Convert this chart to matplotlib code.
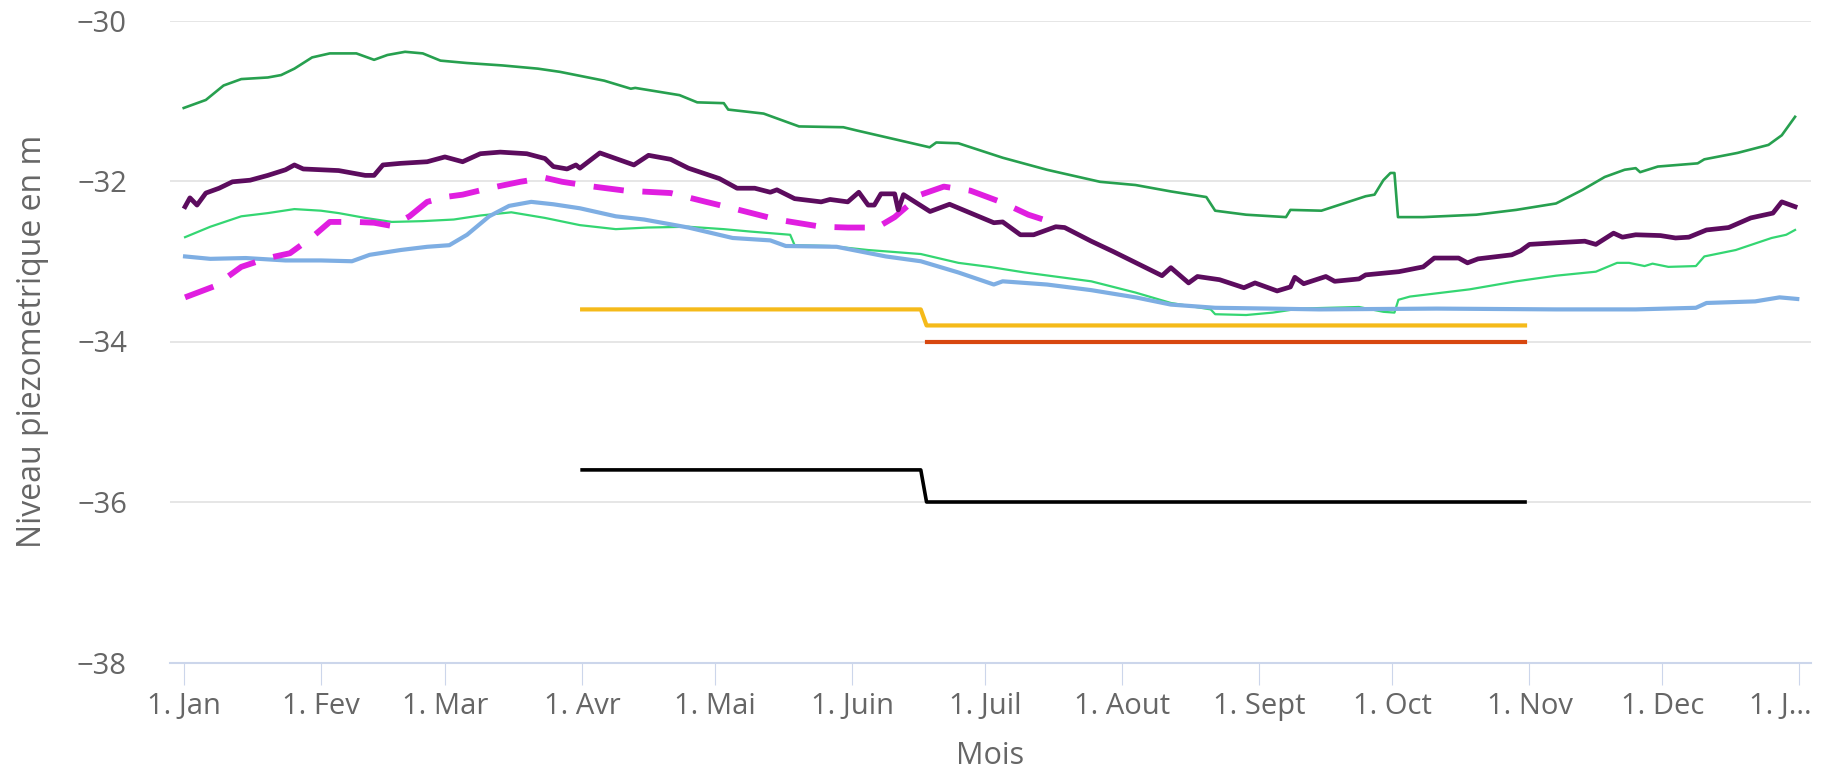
import matplotlib
matplotlib.use("Agg")
import matplotlib.pyplot as plt
from matplotlib.transforms import ScaledTranslation

plt.rcParams['font.family'] = ['Open Sans', 'DejaVu Sans']

# ---- x axis (day of year) ----
month_ticks = [0, 31, 59, 90, 120, 151, 181, 212, 243, 273, 304, 334, 365]
month_labels = ["1. Jan", "1. Fev", "1. Mar", "1. Avr", "1. Mai", "1. Juin", "1. Juil",
                "1. Aout", "1. Sept", "1. Oct", "1. Nov", "1. Dec", "1. J..."]
y_ticks = [-38, -36, -34, -32, -30]

# ---- series: dark green (top) ----
dg_days = [0, 5, 9, 13, 19, 22, 25, 29, 33, 39, 43, 46, 50, 54, 58, 64, 72, 80, 85, 95,
           101, 102, 112, 116, 122, 123, 131, 139, 149, 152, 168.5, 170, 175, 185, 195,
           207, 215, 223, 231, 233, 240, 249, 250, 257, 262, 267, 269, 271, 272.6, 273.5,
           274.3, 280, 292, 301, 310, 316, 321, 325.5, 328, 329, 333, 342, 343.5, 351, 358,
           361, 364]
dg_vals = [-31.09, -30.99, -30.81, -30.73, -30.71, -30.68, -30.60, -30.46, -30.41, -30.41,
           -30.49, -30.43, -30.39, -30.41, -30.50, -30.53, -30.56, -30.60, -30.64, -30.75,
           -30.85, -30.84, -30.93, -31.02, -31.03, -31.11, -31.16, -31.32, -31.33, -31.37,
           -31.58, -31.52, -31.53, -31.71, -31.86, -32.01, -32.05, -32.13, -32.20, -32.37,
           -32.42, -32.45, -32.36, -32.37, -32.28, -32.19, -32.17, -31.99, -31.90, -31.90,
           -32.45, -32.45, -32.42, -32.36, -32.28, -32.11, -31.95, -31.86, -31.84, -31.89,
           -31.82, -31.78, -31.73, -31.65, -31.55, -31.43, -31.20]

# ---- series: dark purple ----
pu_days = [0.3, 1.4, 3, 5, 8, 11, 15, 19, 23, 25, 27, 35, 41, 43, 45, 49, 55, 59, 63, 67,
           71.5, 77.5, 81.6, 83.5, 86.6, 88.6, 89.5, 94, 101.7, 105, 110, 114, 121, 123,
           125, 129, 132.5, 134, 138, 144, 146, 150, 152.5, 154.6, 156, 157.5, 160.6, 161.4,
           162.6, 168.6, 173, 183, 185, 189, 192, 197, 199, 205, 210, 221, 223, 227, 229,
           234, 239.5, 242, 247, 250, 251, 253, 258, 260, 265.5, 267, 274.5, 280, 282.5,
           288, 290, 292.4, 300, 302, 304, 310, 316.5, 319, 323, 325, 328, 333.6, 337, 340,
           344, 349, 354, 359, 361, 363, 364]
pu_vals = [-32.32, -32.21, -32.30, -32.15, -32.09, -32.01, -31.99, -31.93, -31.86, -31.80,
           -31.85, -31.87, -31.93, -31.93, -31.80, -31.78, -31.76, -31.70, -31.76, -31.66,
           -31.64, -31.66, -31.72, -31.82, -31.85, -31.80, -31.84, -31.65, -31.80, -31.68,
           -31.73, -31.84, -31.97, -32.03, -32.09, -32.09, -32.14, -32.11, -32.22, -32.26,
           -32.23, -32.26, -32.14, -32.30, -32.30, -32.16, -32.16, -32.36, -32.17, -32.38,
           -32.29, -32.52, -32.51, -32.67, -32.67, -32.57, -32.58, -32.75, -32.88, -33.18,
           -33.08, -33.27, -33.19, -33.23, -33.33, -33.27, -33.37, -33.32, -33.20, -33.28,
           -33.19, -33.25, -33.22, -33.17, -33.13, -33.07, -32.96, -32.96, -33.02, -32.97,
           -32.92, -32.87, -32.79, -32.77, -32.75, -32.79, -32.65, -32.70, -32.67, -32.68,
           -32.71, -32.70, -32.61, -32.58, -32.46, -32.40, -32.26, -32.30, -32.32]

# ---- series: magenta dashed ----
mg_days = [0.3, 7, 13, 19, 24, 29, 33, 39, 43, 47, 51, 55, 59, 63, 69, 76, 81.6, 85.5,
           92.6, 99.7, 110, 118, 124, 134, 144, 150, 156.6, 160.6, 166.5, 171.7, 177.7,
           185, 190.8, 196.4]
mg_vals = [-33.45, -33.31, -33.07, -32.96, -32.90, -32.70, -32.51, -32.51, -32.52, -32.56,
           -32.44, -32.26, -32.20, -32.17, -32.09, -32.01, -31.96, -32.01, -32.07, -32.12,
           -32.15, -32.26, -32.34, -32.48, -32.57, -32.58, -32.58, -32.45, -32.17, -32.07,
           -32.12, -32.27, -32.42, -32.52]

# ---- series: light green ----
lg_days = [0.3, 6, 13, 19, 25, 31, 35, 41, 47, 54, 61, 67, 74, 81.6, 89.5, 97.6, 104.7,
           114, 122, 128, 137, 138, 146, 154.6, 166.5, 175, 182, 190, 205, 215, 223, 232,
           233, 240, 246, 252, 265.5, 271, 273.5, 274.4, 277, 290.5, 301, 310, 319, 323.8,
           326.5, 330, 331.8, 335.4, 341.6, 343.5, 350.6, 358.7, 362, 364]
lg_vals = [-32.70, -32.57, -32.44, -32.40, -32.35, -32.37, -32.40, -32.46, -32.51, -32.50,
           -32.48, -32.43, -32.39, -32.46, -32.55, -32.60, -32.58, -32.57, -32.60, -32.63,
           -32.67, -32.80, -32.81, -32.86, -32.91, -33.02, -33.07, -33.14, -33.25, -33.39,
           -33.52, -33.60, -33.66, -33.67, -33.64, -33.59, -33.57, -33.63, -33.64, -33.48,
           -33.44, -33.35, -33.25, -33.18, -33.13, -33.02, -33.02, -33.06, -33.03, -33.07,
           -33.06, -32.94, -32.86, -32.71, -32.67, -32.61]

# ---- series: light blue ----
bl_days = [0.3, 6, 14, 23, 31, 38, 42, 49, 55, 60, 64, 69, 73.5, 78.5, 83.5, 89.5, 97.6,
           104, 114, 124, 132.5, 136, 147.5, 158.6, 166.5, 175, 183, 185, 195, 205, 215,
           223, 233, 245.5, 256.5, 283, 310, 328, 341.6, 344, 355, 360.5, 364.5]
bl_vals = [-32.94, -32.97, -32.96, -32.99, -32.99, -33.00, -32.92, -32.86, -32.82, -32.80,
           -32.67, -32.44, -32.31, -32.26, -32.29, -32.34, -32.44, -32.48, -32.58, -32.71,
           -32.74, -32.81, -32.82, -32.94, -33.00, -33.14, -33.29, -33.25, -33.29, -33.36,
           -33.45, -33.54, -33.58, -33.59, -33.60, -33.59, -33.60, -33.60, -33.58, -33.52,
           -33.50, -33.45, -33.47]

# ---- threshold lines ----
yel_days = [90, 166.5, 167.8, 303]
yel_vals = [-33.6, -33.6, -33.8, -33.8]
red_days = [168, 303]
red_vals = [-34.0, -34.0]
blk_days = [90, 166.5, 167.8, 303]
blk_vals = [-35.6, -35.6, -36.0, -36.0]

W, H = 1823, 769
fig = plt.figure(figsize=(W / 100, H / 100), dpi=100)
ax = fig.add_axes([170 / W, 1 - 662.5 / H, (1811 - 170) / W, (662.5 - 20.5) / H])

ax.plot(dg_days, dg_vals, color="#27a04f", lw=1.9, zorder=3)
ax.plot(lg_days, lg_vals, color="#34d672", lw=1.6, zorder=3)
ax.plot(bl_days, bl_vals, color="#7eaee3", lw=3.0, zorder=3)
ax.plot(mg_days, mg_vals, color="#e01ee0", lw=4.2, dashes=(5.2, 3.2),
        dash_capstyle="butt", zorder=4)
ax.plot(pu_days, pu_vals, color="#5c0c5e", lw=3.4, zorder=5)
ax.plot(yel_days, yel_vals, color="#f5ba1a", lw=3.0, zorder=3)
ax.plot(red_days, red_vals, color="#d8470f", lw=3.0, zorder=3)
ax.plot(blk_days, blk_vals, color="#000000", lw=2.6, zorder=3)

ax.set_xlim(-3.1, 367.6)
ax.set_ylim(-38, -30)
ax.set_yticks(y_ticks)
ax.set_xticks(month_ticks)
ax.set_xticklabels(month_labels)

ax.grid(axis="y", color="#e6e6e6", lw=1.4)
ax.set_axisbelow(True)
for side in ["top", "right", "left"]:
    ax.spines[side].set_visible(False)
ax.spines["bottom"].set_color("#ccd6eb")
ax.spines["bottom"].set_linewidth(1.5)

ax.tick_params(axis="x", direction="out", length=16, width=0.8, color="#ccd6eb",
               pad=5, labelsize=21, labelcolor="#666666")
ax.tick_params(axis="y", length=0, pad=31, labelsize=21, labelcolor="#666666")

# last label is shifted left so it fits, as in the reference
last = ax.get_xticklabels()[-1]
last.set_ha("right")
last.set_transform(last.get_transform() + ScaledTranslation(12 / 100, 0, fig.dpi_scale_trans))

ax.set_xlabel("Mois", fontsize=22, color="#666666", labelpad=15)
ax.set_ylabel("Niveau piezometrique en m", fontsize=23, color="#666666")
ax.yaxis.set_label_coords(-0.074, 0.5)

fig.savefig("out.png", dpi=100, facecolor="white")
